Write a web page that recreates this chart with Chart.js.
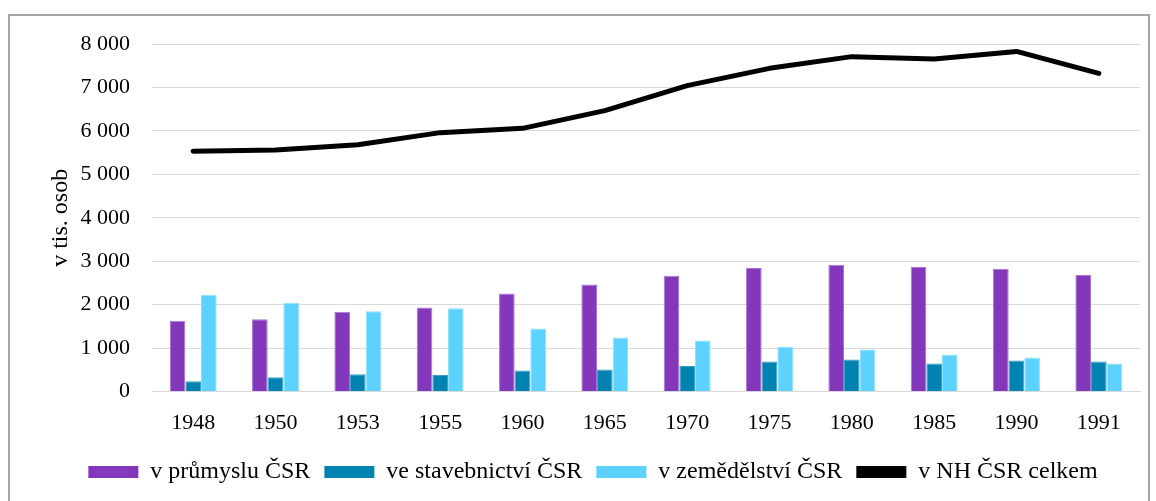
<!DOCTYPE html>
<html>
<head>
<meta charset="utf-8">
<script src="https://cdn.jsdelivr.net/npm/chart.js@4.4.1/dist/chart.umd.min.js"></script>
<style>
  html, body { margin: 0; padding: 0; background: #fff; }
  #frame { position: absolute; left: 8px; top: 14px; width: 1138px; height: 500px; border: 2px solid #a6a6a6; }
  #wrap { position: absolute; left: 0; top: 0; width: 1156px; height: 501px; }
</style>
</head>
<body>
<div id="frame"></div>
<div id="wrap"><canvas id="myChart"></canvas></div>
<script>
// data (thousands of persons)
const years = ["1948", "1950", "1953", "1955", "1960", "1965", "1970", "1975", "1980", "1985", "1990", "1991"];
const prumysl = [1630, 1666, 1836, 1935, 2258, 2465, 2666, 2846, 2922, 2869, 2830, 2685];
const stavebnictvi = [237, 330, 399, 384, 484, 507, 592, 691, 737, 645, 714, 691];
const zemedelstvi = [2228, 2044, 1850, 1920, 1452, 1244, 1175, 1030, 968, 853, 783, 645];
const celkem = [5530, 5560, 5680, 5960, 6059, 6466, 7041, 7440, 7709, 7655, 7830, 7324];
const yTicks = [0, 1000, 2000, 3000, 4000, 5000, 6000, 7000, 8000];

const serif = "'Liberation Serif', 'Times New Roman', serif";
const fmt = v => String(v).replace(/\B(?=(\d{3})+(?!\d))/g, " ");

const ctx = document.getElementById('myChart');
new Chart(ctx, {
    type: 'bar',
    data: {
        labels: years,
        datasets: [
            { label: 'v průmyslu ČSR', data: prumysl, backgroundColor: '#8338bc', borderColor: '#a676d3', borderWidth: 1 },
            { label: 've stavebnictví ČSR', data: stavebnictvi, backgroundColor: '#0083b1', borderColor: '#3aa0c4', borderWidth: 1 },
            { label: 'v zemědělství ČSR', data: zemedelstvi, backgroundColor: '#5dd2fe', borderColor: '#8fe0ff', borderWidth: 1 },
            {
                type: 'line', label: 'v NH ČSR celkem', data: celkem,
                borderColor: '#000', backgroundColor: '#000', borderWidth: 5,
                pointRadius: 0, tension: 0, borderCapStyle: 'round', borderJoinStyle: 'round'
            }
        ]
    },
    options: {
        responsive: true,
        maintainAspectRatio: false,
        animation: false,
        categoryPercentage: 0.57,
        barPercentage: 1.0,
        layout: { padding: { left: 46, right: 16, top: 44, bottom: 7 } },
        plugins: {
            tooltip: { enabled: false },
            legend: {
                position: 'bottom',
                labels: {
                    color: '#000',
                    font: { family: serif, size: 24 },
                    boxWidth: 50,
                    boxHeight: 12,
                    padding: 14,
                    generateLabels: (chart) => chart.data.datasets.map((ds, i) => ({
                        text: ds.label,
                        fillStyle: ds.backgroundColor,
                        strokeStyle: ds.backgroundColor,
                        lineWidth: 0,
                        hidden: false,
                        datasetIndex: i,
                        fontColor: '#000'
                    }))
                }
            }
        },
        scales: {
            x: {
                grid: { display: false },
                border: { color: '#d9d9d9', width: 1 },
                ticks: { color: '#000', font: { family: serif, size: 22 }, padding: 10 }
            },
            y: {
                min: 0,
                max: 8000,
                afterBuildTicks: (scale) => { scale.ticks = yTicks.map(v => ({ value: v })); },
                afterFit: (scale) => { scale.width = 106; },
                grid: { color: '#d9d9d9', lineWidth: 1, drawTicks: false },
                border: { display: false },
                ticks: { color: '#000', font: { family: serif, size: 22 }, padding: 22, callback: (v) => fmt(v) },
                title: { display: true, text: 'v tis. osob', color: '#000', font: { family: serif, size: 24 }, padding: 0 }
            }
        }
    }
});
</script>
</body>
</html>
